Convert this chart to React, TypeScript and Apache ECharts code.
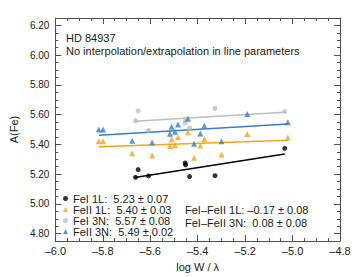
import React, { useEffect, useRef } from "react";
import * as echarts from "echarts";

// FeI lines (x = log W/λ)
const feIX = [-5.662, -5.651, -5.607, -5.453, -5.451, -5.434, -5.327, -5.033];
const feI1L = [5.179, 5.231, 5.188, 5.275, 5.262, 5.184, 5.19, 5.374];
const feI3N = [5.559, 5.625, 5.494, 5.544, 5.564, 5.511, 5.643, 5.621];
// FeII lines
const feIIX = [-5.817, -5.799, -5.676, -5.592, -5.517, -5.51, -5.496, -5.483, -5.441, -5.415, -5.389, -5.372, -5.3, -5.191, -5.02];
const feII1L = [5.422, 5.422, 5.341, 5.326, 5.389, 5.435, 5.395, 5.449, 5.482, 5.31, 5.393, 5.436, 5.332, 5.47, 5.446];
const feII3N = [5.5, 5.5, 5.424, 5.413, 5.472, 5.518, 5.485, 5.534, 5.572, 5.405, 5.474, 5.525, 5.422, 5.605, 5.549];

// Linear fits: [x start, x end] and [y start, y end]
const fitFeIX = [-5.665, -5.033];
const fitFeI1L = [5.177, 5.336];
const fitFeI3N = [5.555, 5.616];
const fitFeIIX = [-5.817, -5.02];
const fitFeII1L = [5.385, 5.428];
const fitFeII3N = [5.461, 5.538];

const seriesNames = ["FeI 1L", "FeII 1L", "FeI 3N", "FeII 3N"];
const legendValues = ["5.23 ± 0.07", "5.40 ± 0.03", "5.57 ± 0.08", "5.49 ± 0.02"];
const diffLines = ["FeI–FeII 1L: –0.17 ± 0.08", "FeI–FeII 3N:  0.08 ± 0.08"];
const titleLines = ["HD 84937", "No interpolation/extrapolation in line parameters"];
const yMajorTicks = [4.8, 5.0, 5.2, 5.4, 5.6, 5.8, 6.0, 6.2];

const FONT = "'Liberation Sans', Arial, Helvetica, sans-serif";
const AXIS_COLOR = "#505050";
const TEXT_COLOR = "#1a1a1a";
const colors = ["#000000", "#f5a31a", "#bdbdbd", "#3b7dc0"];

const zip = (xs: number[], ys: number[]) => xs.map((x, i) => [x, ys[i]]);

export default function App() {
  const ref = useRef<HTMLDivElement>(null);
  useEffect(() => {
    document.body.style.margin = "0";
    if (!ref.current) return;
    const chart = echarts.init(ref.current, null, { renderer: "svg" });
    const lineStyle = { color: AXIS_COLOR, width: 1 };
    const xCommon = {
      type: "value" as const,
      min: -6,
      max: -4.8,
      interval: 0.2,
      splitLine: { show: false },
      axisLine: { show: true, onZero: false, lineStyle },
      axisTick: { show: true, inside: true, length: 6, lineStyle },
      minorTick: { show: true, splitNumber: 4, length: 3, lineStyle },
    };
    const yMinor = {
      type: "value" as const,
      min: 4.75,
      max: 6.25,
      interval: 0.05,
      splitLine: { show: false },
      axisLine: { show: true, onZero: false, lineStyle },
      axisTick: { show: true, inside: true, length: 3, lineStyle },
    };
    const yMajor = {
      type: "value" as const,
      min: 4.75,
      max: 6.25,
      interval: 0.05,
      splitLine: { show: false },
      axisLine: { show: false },
      axisTick: { show: true, inside: true, length: 6, lineStyle, customValues: yMajorTicks },
      axisLabel: { show: false },
    };
    const fmtX = (v: number) => (v < 0 ? "–" + Math.abs(v).toFixed(1) : v.toFixed(1));
    const scatter = (name: string, data: number[][], symbol: string, size: number, color: string) => ({
      name,
      type: "scatter",
      data,
      symbol,
      symbolSize: size,
      itemStyle: { color },
      xAxisIndex: 0,
      yAxisIndex: 0,
      z: 3,
    });
    const fit = (xs: number[], ys: number[], color: string) => ({
      type: "line",
      data: zip(xs, ys),
      showSymbol: false,
      symbol: "none",
      lineStyle: { color, width: 1.5 },
      xAxisIndex: 0,
      yAxisIndex: 0,
      z: 2,
      silent: true,
    });
    chart.setOption({
      animation: false,
      grid: { left: 51, right: 18, top: 18, bottom: 30, containLabel: false },
      xAxis: [
        {
          ...xCommon,
          position: "bottom",
          axisLabel: { formatter: fmtX, fontSize: 11, color: TEXT_COLOR, fontFamily: FONT, margin: 4 },
          name: "log W / λ",
          nameLocation: "middle",
          nameGap: 15,
          nameTextStyle: { fontSize: 11, color: TEXT_COLOR, fontFamily: FONT },
        },
        { ...xCommon, position: "top", axisLabel: { show: false } },
      ],
      yAxis: [
        {
          ...yMinor,
          position: "left",
          axisLabel: {
            customValues: yMajorTicks,
            formatter: (v: number) => v.toFixed(2),
            fontSize: 10,
            color: TEXT_COLOR,
            fontFamily: FONT,
            margin: 6,
          },
          name: "A(Fe)",
          nameLocation: "middle",
          nameGap: 30,
          nameTextStyle: { fontSize: 11, color: TEXT_COLOR, fontFamily: FONT },
        },
        { ...yMinor, position: "right", axisLabel: { show: false } },
        { ...yMajor, position: "left" },
        { ...yMajor, position: "right" },
      ],
      legend: {
        orient: "vertical",
        left: 63,
        top: 193,
        padding: 0,
        itemGap: 0,
        itemWidth: 5,
        itemHeight: 5,
        data: seriesNames,
        formatter: (name: string) => name + ":  " + legendValues[seriesNames.indexOf(name)],
        textStyle: { fontSize: 11, color: TEXT_COLOR, fontFamily: FONT, padding: [0, 0, 0, 0] },
        selectedMode: false,
      },
      graphic: [
        ...titleLines.map((t, i) => ({
          type: "text",
          left: 66,
          top: 32 + i * 13,
          style: { text: t, fontSize: 11, fill: TEXT_COLOR, fontFamily: FONT },
        })),
        ...diffLines.map((t, i) => ({
          type: "text",
          left: 185,
          top: 204 + i * 13.3,
          style: { text: t, fontSize: 11, fill: TEXT_COLOR, fontFamily: FONT },
        })),
      ],
      series: [
        fit(fitFeIX, fitFeI1L, colors[0]),
        fit(fitFeIIX, fitFeII1L, colors[1]),
        fit(fitFeIX, fitFeI3N, colors[2]),
        fit(fitFeIIX, fitFeII3N, colors[3]),
        scatter(seriesNames[0], zip(feIX, feI1L), "circle", 5, colors[0]),
        scatter(seriesNames[1], zip(feIIX, feII1L), "triangle", 6, colors[1]),
        scatter(seriesNames[2], zip(feIX, feI3N), "circle", 5, colors[2]),
        scatter(seriesNames[3], zip(feIIX, feII3N), "triangle", 6, colors[3]),
      ],
    });
    return () => chart.dispose();
  }, []);
  return (
    <div
      ref={ref}
      style={{ width: 358, height: 277, position: "absolute", left: 0, top: 0, background: "#fff" }}
    />
  );
}
